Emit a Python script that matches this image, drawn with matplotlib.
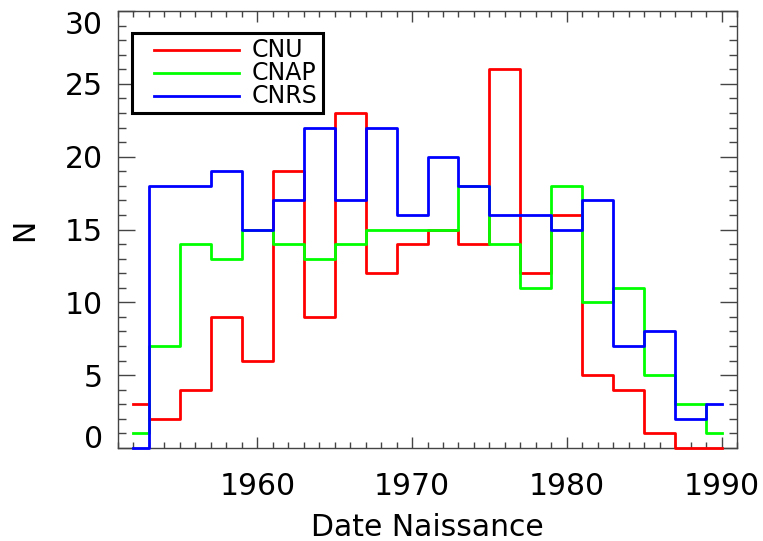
import matplotlib.pyplot as plt
from matplotlib.patches import Rectangle
from matplotlib.ticker import MultipleLocator

# bin centres (2-year bins), IDL psym=10 style histogram
years = [1952, 1954, 1956, 1958, 1960, 1962, 1964, 1966, 1968, 1970,
         1972, 1974, 1976, 1978, 1980, 1982, 1984, 1986, 1988, 1990]

cnu = [3, 2, 4, 9, 6, 19, 9, 23, 12, 14, 15, 14, 26, 12, 16, 5, 4, 1, 0, 0]
cnap = [1, 7, 14, 13, 15, 14, 13, 14, 15, 15, 15, 18, 14, 11, 18, 10, 11, 5, 3, 1]
cnrs = [0, 18, 18, 19, 15, 17, 22, 17, 22, 16, 20, 18, 16, 16, 15, 17, 7, 8, 2, 3]

series = [('CNU', cnu, '#ff0000'), ('CNAP', cnap, '#00ff00'), ('CNRS', cnrs, '#0000ff')]

W, H = 763, 541
fig = plt.figure(figsize=(W / 100, H / 100), dpi=100)
ax = fig.add_axes([118 / W, 1 - 448 / H, 619 / W, 437 / H])

for name, vals, col in series:
    ax.step(years, vals, where='mid', color=col, lw=2, label=name,
            zorder=3, clip_on=False)

ax.set_xlim(1951, 1991)
ax.set_ylim(0, 30)
ax.xaxis.set_major_locator(MultipleLocator(10))
ax.xaxis.set_minor_locator(MultipleLocator(1))
ax.yaxis.set_major_locator(MultipleLocator(5))
ax.yaxis.set_minor_locator(MultipleLocator(1))

ax.tick_params(axis='both', which='both', direction='in', top=True, right=True,
               color='#444444', width=1, labelsize=21.5)
ax.tick_params(axis='x', which='major', length=8, pad=17)
ax.tick_params(axis='x', which='minor', length=4)
ax.tick_params(axis='y', which='major', length=12, pad=11)
ax.tick_params(axis='y', which='minor', length=6)
for sp in ax.spines.values():
    sp.set_color('#444444')
    sp.set_linewidth(1)

# IDL keeps the end labels inside the axis range
fig.canvas.draw()
for tick in ax.yaxis.get_major_ticks():
    v = tick.get_loc()
    if abs(v - 0) < 1e-6:
        tick.label1.set_verticalalignment('baseline')
    elif abs(v - 30) < 1e-6:
        tick.label1.set_verticalalignment('top')

ax.set_xlabel('Date Naissance', fontsize=21.5, labelpad=9)
ax.set_ylabel('N', fontsize=21.5, labelpad=18)

# IDL-style legend box (line sample, then label)
tf = fig.transFigure
fig.add_artist(Rectangle((132 / W, 1 - 113 / H), 191 / W, 80 / H, transform=tf,
                         fill=True, facecolor='white', edgecolor='black',
                         lw=2.2, zorder=5))
for i, (name, vals, col) in enumerate(series):
    py = 1 - (50 + 23 * i) / H
    fig.add_artist(plt.Line2D([154 / W, 239 / W], [py, py], transform=tf,
                              color=col, lw=2, zorder=6))
    fig.text(252 / W, py, name, fontsize=17, va='center', ha='left', zorder=6)

fig.savefig('out.png', dpi=100)
